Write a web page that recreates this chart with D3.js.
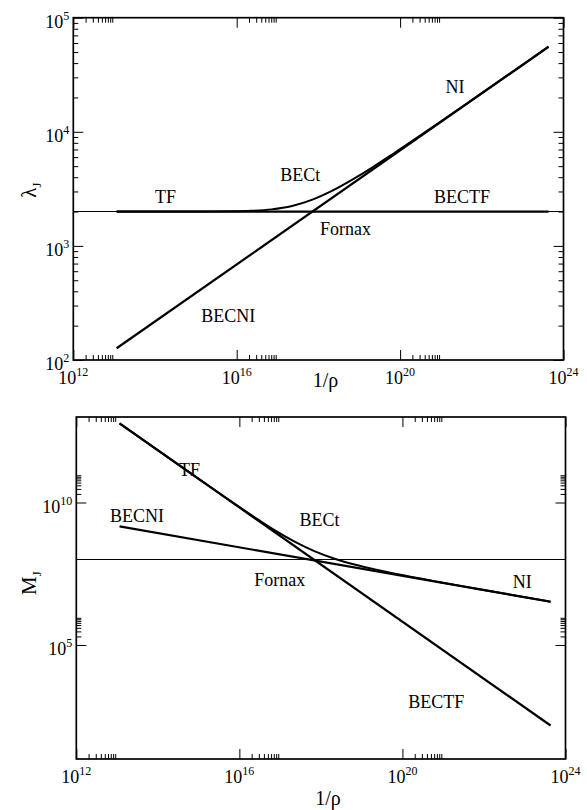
<!DOCTYPE html>
<html>
<head>
<meta charset="utf-8">
<script src="https://cdn.jsdelivr.net/npm/d3@7"></script>
<style>
  body { margin: 0; background: #fff; }
  svg { display: block; }
</style>
</head>
<body>
<svg id="chart" width="587" height="810" font-family="'Liberation Serif', 'DejaVu Serif', serif"></svg>
<script>
// Decade exponents that carry a labelled major tick
const rhoMajorExp = [12, 16, 20, 24];
const lambdaMajorExp = [2, 3, 4, 5];
const massMajorExp = [5, 10];

// Straight branches: end points in 1/rho
const lineRho = [1.15e13, 4.3e23];
const lambdaTF = [2000, 2000];
const lambdaNI = [126.7, 55620];
const lambdaFornax = 2000;
const massTF = [5.95e12, 150];
const massNI = [1.45e9, 3.3e6];
const massFornax = 1e8;

// BECt branch (interpolates between the TF and NI regimes)
const becRho = [1.15e13, 7.1e14, 7.1e15, 2.26e16, 7.1e16, 2.26e17, 7.14e17,
                2.26e18, 7.1e18, 2.26e19, 7.1e19, 7.1e20, 7.1e21, 4.3e23];
const lambdaBECt = [2000, 2001, 2010, 2030, 2090, 2238, 2544,
                    3064, 3848, 4958, 6485, 11336, 20050, 55620];
const massBECt = [5.95e12, 9.56e10, 9.69e9, 3.16e9, 1.089e9, 4.233e8, 1.93e8,
                  1.044e8, 6.54e7, 4.42e7, 3.13e7, 1.671e7, 9.25e6, 3.3e6];

// Curve labels, placed in data coordinates
const lambdaLabels = [
  { text: "TF",     x: 1.8e14, y: 2690 },
  { text: "BECt",   x: 3.6e17, y: 4170 },
  { text: "NI",     x: 2.2e21, y: 24500 },
  { text: "BECTF",  x: 3.3e21, y: 2690 },
  { text: "Fornax", x: 4.6e18, y: 1410 },
  { text: "BECNI",  x: 6.2e15, y: 245 }
];
const massLabels = [
  { text: "TF",     x: 6.0e14, y: 1.38e11 },
  { text: "BECNI",  x: 3.1e13, y: 3.4e9 },
  { text: "BECt",   x: 9.3e17, y: 2.45e9 },
  { text: "Fornax", x: 9.8e16, y: 1.9e7 },
  { text: "NI",     x: 8.7e22, y: 1.62e7 },
  { text: "BECTF",  x: 6.8e20, y: 1.0e3 }
];

const svg = d3.select("#chart");
const serif = "'Liberation Serif', 'DejaVu Serif', serif";
const font = 18;

// Minor ticks at 2..9 times each major tick value
function minorOf(exps, domain) {
  const out = [];
  exps.forEach(e => {
    for (let k = 2; k <= 9; k++) {
      const v = k * Math.pow(10, e);
      if (v > domain[0] && v < domain[1]) out.push(v);
    }
  });
  return out;
}

function powLabel(sel, exp) {
  sel.text(null);
  sel.append("tspan").text("10");
  sel.append("tspan").attr("dy", -8).attr("font-size", 12).text(exp);
}

function tickAxis(g, axis, tr, values, size) {
  g.append("g").attr("transform", tr)
    .call(axis.tickValues(values).tickSize(-size).tickFormat("").tickSizeOuter(0))
    .call(s => s.select(".domain").remove());
}

function panel(cfg) {
  const { left, right, top, bottom, yDomain, yMajor, series, labels, yTitle, titleY, yTitleX, yTitleY } = cfg;
  const xDomain = [1e12, 1e24];
  const x = d3.scaleLog().domain(xDomain).range([left, right]);
  const y = d3.scaleLog().domain(yDomain).range([bottom, top]);
  const g = svg.append("g");

  const xMajorVals = rhoMajorExp.map(e => Math.pow(10, e));
  const xMinorVals = minorOf(rhoMajorExp, xDomain);
  const yMajorVals = yMajor.map(e => Math.pow(10, e));
  const yMinorVals = minorOf(yMajor, yDomain);

  // inward ticks on all four sides
  tickAxis(g, d3.axisBottom(x), `translate(0,${bottom})`, xMinorVals, 5);
  tickAxis(g, d3.axisBottom(x), `translate(0,${bottom})`, xMajorVals, 10);
  tickAxis(g, d3.axisTop(x), `translate(0,${top})`, xMinorVals, 5);
  tickAxis(g, d3.axisTop(x), `translate(0,${top})`, xMajorVals, 10);
  tickAxis(g, d3.axisLeft(y), `translate(${left},0)`, yMinorVals, 5);
  tickAxis(g, d3.axisLeft(y), `translate(${left},0)`, yMajorVals, 10);
  tickAxis(g, d3.axisRight(y), `translate(${right},0)`, yMinorVals, 5);
  tickAxis(g, d3.axisRight(y), `translate(${right},0)`, yMajorVals, 10);
  g.selectAll(".tick line").attr("stroke", "#000").attr("stroke-width", 1);

  // tick labels
  g.selectAll(".xlab").data(rhoMajorExp).join("text")
    .attr("class", "xlab")
    .attr("x", e => x(Math.pow(10, e)))
    .attr("y", bottom + 24)
    .attr("text-anchor", "middle")
    .attr("font-family", serif)
    .attr("font-size", font)
    .each(function (e) { powLabel(d3.select(this), e); });
  g.selectAll(".ylab").data(yMajor).join("text")
    .attr("class", "ylab")
    .attr("x", left - 4)
    .attr("y", e => y(Math.pow(10, e)) + 10)
    .attr("text-anchor", "end")
    .attr("font-family", serif)
    .attr("font-size", font)
    .each(function (e) { powLabel(d3.select(this), e); });

  // frame
  g.append("rect")
    .attr("x", left).attr("y", top)
    .attr("width", right - left).attr("height", bottom - top)
    .attr("fill", "none").attr("stroke", "#000").attr("stroke-width", 1.7);

  // data
  const line = d3.line().x(d => x(d[0])).y(d => y(d[1]));
  series.forEach(s => {
    const pts = s.xs.map((v, i) => [v, s.ys[i]]);
    g.append("path")
      .attr("d", line.curve(s.smooth ? d3.curveMonotoneX : d3.curveLinear)(pts))
      .attr("fill", "none").attr("stroke", "#000")
      .attr("stroke-width", s.w).attr("stroke-linejoin", "round");
  });

  // curve labels
  g.selectAll(".clab").data(labels).join("text")
    .attr("class", "clab")
    .attr("x", d => x(d.x))
    .attr("y", d => y(d.y) + 6)
    .attr("text-anchor", "middle")
    .attr("font-family", serif)
    .attr("font-size", font)
    .text(d => d.text);

  // axis titles
  g.append("text")
    .attr("x", (left + right) / 2 + 7).attr("y", titleY)
    .attr("text-anchor", "middle")
    .attr("font-family", serif)
    .attr("font-size", 20)
    .text("1/ρ");
  const yt = g.append("text")
    .attr("transform", `translate(${yTitleX},${yTitleY}) rotate(-90)`)
    .attr("text-anchor", "middle")
    .attr("font-family", serif)
    .attr("font-size", 21);
  yt.append("tspan").text(yTitle);
  yt.append("tspan").attr("dy", 5).attr("font-size", 13).text("J");
}

panel({
  left: 73.3, right: 563.5, top: 17.7, bottom: 360,
  yDomain: [1e2, 1e5], yMajor: lambdaMajorExp,
  series: [
    { xs: [1e12, 1e24], ys: [lambdaFornax, lambdaFornax], w: 1.1 },
    { xs: lineRho, ys: lambdaTF, w: 2.2 },
    { xs: lineRho, ys: lambdaNI, w: 2.2 },
    { xs: becRho, ys: lambdaBECt, w: 2.0, smooth: true }
  ],
  labels: lambdaLabels,
  yTitle: "λ", titleY: 387, yTitleX: 36, yTitleY: 190
});

panel({
  left: 76.3, right: 565.5, top: 417, bottom: 759,
  yDomain: [1e1, 1e13], yMajor: massMajorExp,
  series: [
    { xs: [1e12, 1e24], ys: [massFornax, massFornax], w: 1.1 },
    { xs: lineRho, ys: massTF, w: 2.2 },
    { xs: lineRho, ys: massNI, w: 2.2 },
    { xs: becRho, ys: massBECt, w: 2.0, smooth: true }
  ],
  labels: massLabels,
  yTitle: "M", titleY: 805, yTitleX: 36, yTitleY: 583
});
</script>
</body>
</html>
